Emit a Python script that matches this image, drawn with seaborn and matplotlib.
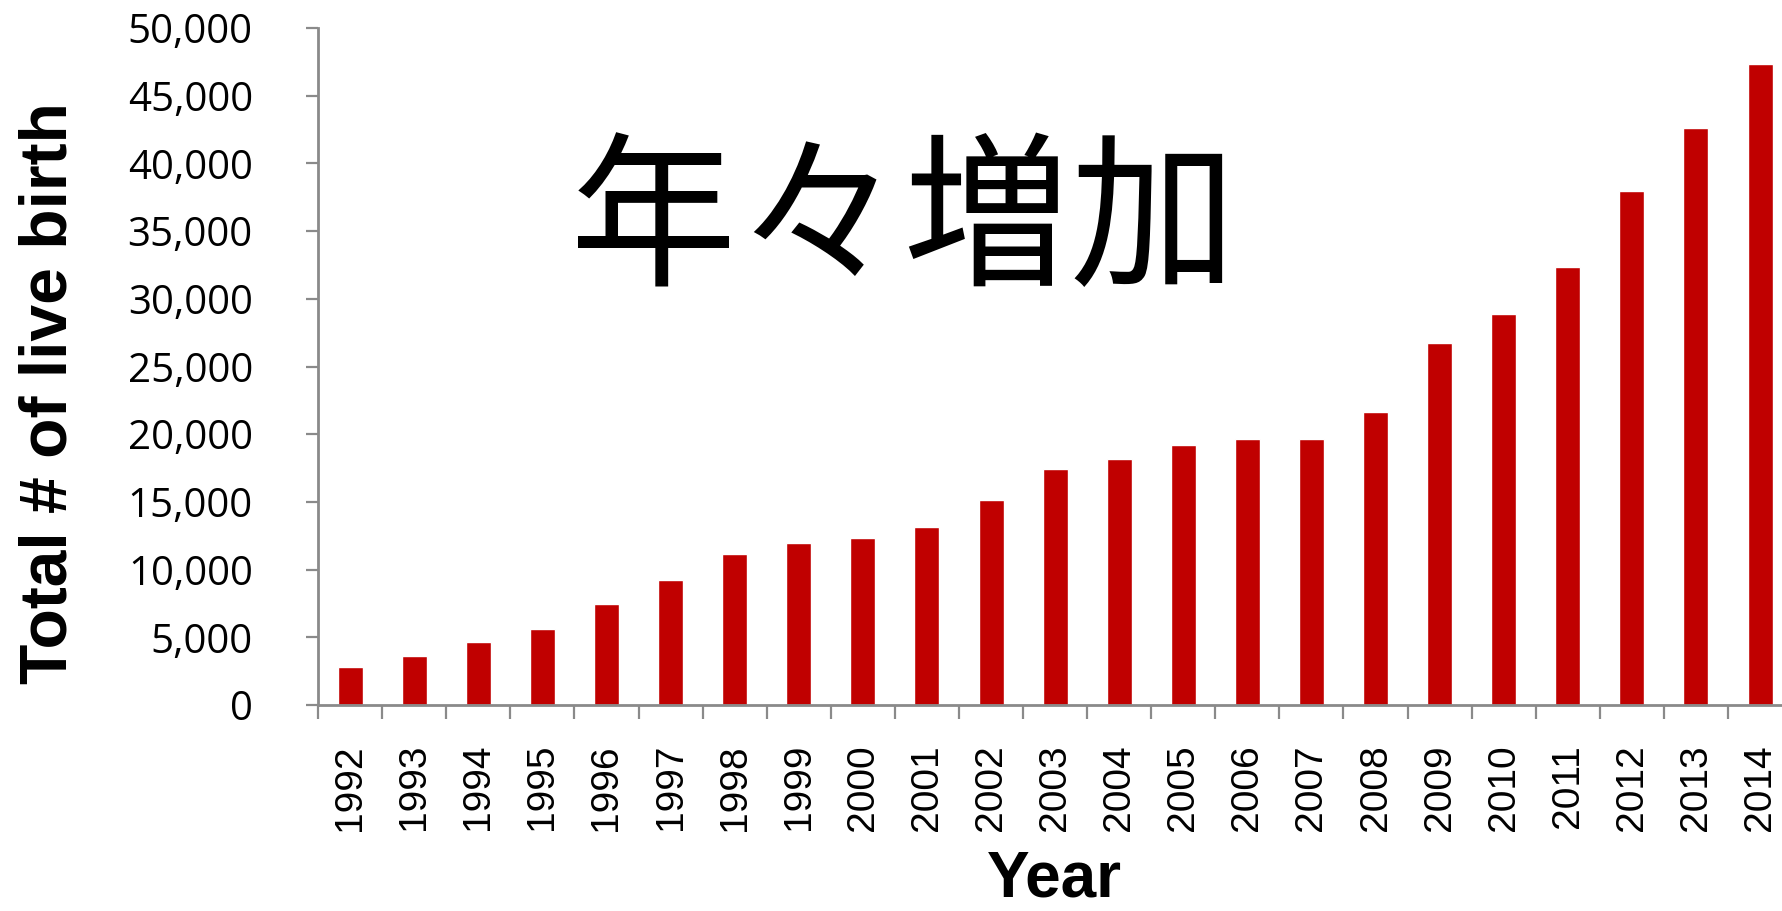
import matplotlib
matplotlib.use("Agg")
import matplotlib.pyplot as plt
import seaborn as sns
import pandas as pd
from matplotlib.ticker import FuncFormatter, FixedLocator

# Annual totals of live births
years = [str(y) for y in range(1992, 2015)]
live_births = [2820, 3610, 4620, 5650, 7450, 9270, 11140, 11950, 12340, 13150,
               15170, 17400, 18190, 19220, 19620, 19620, 21630, 26720, 28890,
               32330, 37980, 42650, 47320]
y_ticks = [0, 5000, 10000, 15000, 20000, 25000, 30000, 35000, 40000, 45000, 50000]
headline = "年々増加"
x_title = "Year"
y_title = "Total # of live birth"

sns.set_theme(style="white")
plt.rcParams["font.family"] = ["Open Sans", "DejaVu Sans"]
plt.rcParams["text.color"] = "black"
plt.rcParams["xtick.color"] = "black"
plt.rcParams["ytick.color"] = "black"

df = pd.DataFrame({"year": years, "births": live_births})

fig = plt.figure(figsize=(17.83, 9.11), dpi=100)
ax = fig.add_axes([0.1784, 0.2261, 0.8267, 0.7431])

sns.barplot(data=df, x="year", y="births", color="#C00000", saturation=1,
            width=0.39, ax=ax)

ax.set_ylim(0, 50000)
ax.set_xlim(-0.5, len(years) - 0.5)
ax.yaxis.set_major_locator(FixedLocator(y_ticks))
ax.yaxis.set_major_formatter(FuncFormatter(lambda v, p: f"{int(v):,}"))

for side in ("top", "right"):
    ax.spines[side].set_visible(False)
for side in ("left", "bottom"):
    ax.spines[side].set_color("#8a8a8a")
    ax.spines[side].set_linewidth(2)

ax.tick_params(axis="y", which="major", direction="out", length=9, width=1.6,
               color="#8a8a8a", pad=38, labelsize=29, labelcolor="black", left=True)
for lab in ax.get_yticklabels():
    lab.set_fontfamily(["Open Sans", "DejaVu Sans"])

# category boundaries carry the tick marks, centres carry the labels
ax.set_xticks([i - 0.5 for i in range(len(years) + 1)], minor=True)
ax.tick_params(axis="x", which="minor", direction="out", length=10, width=1.6,
               color="#8a8a8a", bottom=True)
ax.tick_params(axis="x", which="major", length=0, pad=28, labelsize=28,
               labelcolor="black")
ax.set_xticks(range(len(years)))
ax.set_xticklabels(years, rotation=90, va="top", ha="center",
                   family=["Liberation Sans Narrow", "Liberation Sans"])

ax.set_xlabel("")
ax.set_ylabel("")
fig.text(0.5915, 0.002, x_title, ha="center", va="bottom", fontsize=46,
         fontweight="bold", color="black", family=["Liberation Sans", "DejaVu Sans"])
fig.text(0.028, 0.568, y_title, rotation=90, ha="center", va="center",
         fontsize=47.5, fontweight="bold", color="black",
         family=["Liberation Sans", "DejaVu Sans"])

fig.text(0.5065, 0.752, headline, ha="center", va="center", fontsize=120,
         color="black", family=["Noto Sans CJK JP", "DejaVu Sans"])

fig.savefig("out.png", dpi=100, facecolor="white")
